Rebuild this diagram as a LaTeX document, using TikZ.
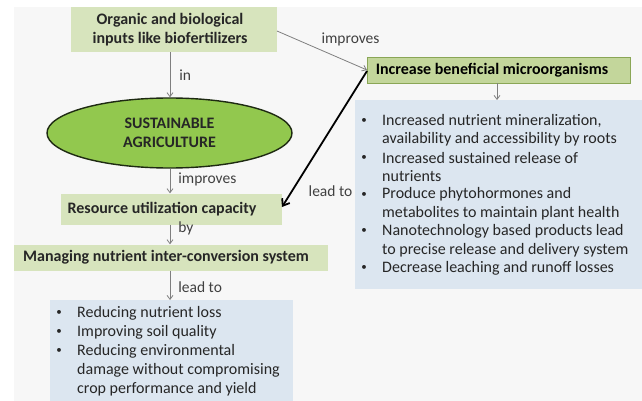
\documentclass[tikz,border=0pt]{standalone}
\usepackage{fontspec}
\setmainfont{Carlito}
\usetikzlibrary{arrows.meta,shapes.geometric}
\definecolor{pagebg}{HTML}{F7F7F7}
\definecolor{boxgreen}{HTML}{D7E4BD}
\definecolor{midgreen}{HTML}{C3D69B}
\definecolor{midgreenline}{HTML}{8AA656}
\definecolor{ellgreen}{HTML}{92C84E}
\definecolor{ellline}{HTML}{1E2A12}
\definecolor{listblue}{HTML}{DCE6F0}
\definecolor{inktext}{HTML}{262626}
\definecolor{labeltext}{HTML}{404040}
\definecolor{thinarrow}{HTML}{7F7F7F}
\tikzset{
  greenbox/.style={fill=boxgreen, draw=none, inner sep=0pt, font=\bfseries\fontsize{16}{19.5}\selectfont, text=inktext, align=center},
  listbox/.style={fill=listblue, draw=none, inner sep=0pt},
  bulletline/.style={anchor=west, font=\fontsize{16}{18}\selectfont, text=inktext, inner sep=0pt},
  dot/.style={anchor=center, font=\fontsize{11}{12}\selectfont, text=inktext, inner sep=0pt},
  linklabel/.style={font=\fontsize{15.5}{17}\selectfont, text=labeltext, inner sep=0pt},
  thin link/.style={draw=thinarrow, line width=0.8pt, -{Straight Barb[length=4pt,width=6pt]}},
  thick link/.style={draw=black, line width=1.8pt, -{Straight Barb[length=6pt,width=9pt]}},
}
\begin{document}
\begin{tikzpicture}[x=1pt,y=-1pt]
\useasboundingbox (0,0) rectangle (642,401);
\fill[pagebg] (14,7) rectangle (642,401);

% left column
\node[greenbox, minimum width=206pt, minimum height=45pt] (organic) at (174,29.5)
  {\hspace*{-8pt}Organic and biological\\\hspace*{-8pt}inputs like biofertilizers};
\node[ellipse, fill=ellgreen, draw=ellline, line width=1.4pt, minimum width=245pt, minimum height=70pt,
      inner sep=0pt, font=\bfseries\fontsize{16}{19.5}\selectfont, text=inktext, align=center]
  (sustain) at (169.5,133) {SUSTAINABLE\\AGRICULTURE};
\node[greenbox, minimum width=221pt, minimum height=31pt] (resource) at (171,209)
  {\hspace*{-18pt}Resource utilization capacity};
\node[greenbox, minimum width=314pt, minimum height=26pt] (manage) at (171,257.5)
  {\hspace*{-10pt}Managing nutrient inter-conversion system};
\node[listbox, anchor=north west, minimum width=243pt, minimum height=101pt] (lossbox) at (50,300) {};

% right column
\node[fill=midgreen, draw=midgreenline, line width=0.8pt, minimum width=263pt, minimum height=26pt,
      inner sep=0pt, font=\bfseries\fontsize{16}{19}\selectfont, text=black]
  (microbes) at (498.5,70) {\hspace*{-13pt}Increase beneficial microorganisms};
\node[listbox, anchor=north west, minimum width=287pt, minimum height=189pt] (benefitbox) at (355,100) {};

% bullet list under the microorganisms box
\foreach \y/\t in {121/{Increased nutrient mineralization,},
                   139.4/{availability and accessibility by roots},
                   157.8/{Increased sustained release of},
                   176.2/{nutrients},
                   194.6/{Produce phytohormones and},
                   213/{metabolites to maintain plant health},
                   231.4/{Nanotechnology based products lead},
                   249.8/{to precise release and delivery system},
                   268.2/{Decrease leaching and runoff losses}}
  \node[bulletline] at (382,\y) {\t};
\foreach \y in {121,157.8,194.6,231.4,268.2}
  \node[dot] at (364,\y) {•};

% bullet list under the inter-conversion box
\foreach \y/\t in {313/{Reducing nutrient loss},
                   332/{Improving soil quality},
                   351/{Reducing environmental},
                   370/{damage without compromising},
                   389/{crop performance and yield}}
  \node[bulletline] at (77,\y) {\t};
\foreach \y in {313,332,351}
  \node[dot] at (59,\y) {•};

% connectors
\draw[thin link] (organic.south -| 170,0) -- (sustain.north -| 170,0)
  node[linklabel, midway, right=9pt] {in};
\draw[thin link] (sustain.south -| 170,0) -- (resource.north -| 170,0)
  node[linklabel, pos=0.45, right=8pt] {improves};
\draw[thin link] (resource.south -| 170,0) -- (manage.north -| 170,0)
  node[linklabel, pos=0.2, right=8pt] {by};
\draw[thin link] (manage.south -| 170,0) -- (lossbox.north -| 170,0)
  node[linklabel, pos=0.55, right=8pt] {lead to};
\draw[thin link] (microbes.south -| 497,0) -- (benefitbox.north -| 497,0);

\coordinate (organicexit) at (277,31);
\coordinate (microbeentry) at (367,70);
\draw[thin link] (organicexit) -- (microbeentry);
\node[linklabel] (improveslabel) at (350.5,39) {improves};

\coordinate (microbeexit) at (367,71);
\coordinate (resourceentry) at (282,207);
\draw[thick link] (microbeexit) -- (resourceentry);
\node[linklabel] (leadlabel) at (330.5,191) {lead to};
\end{tikzpicture}
\end{document}
